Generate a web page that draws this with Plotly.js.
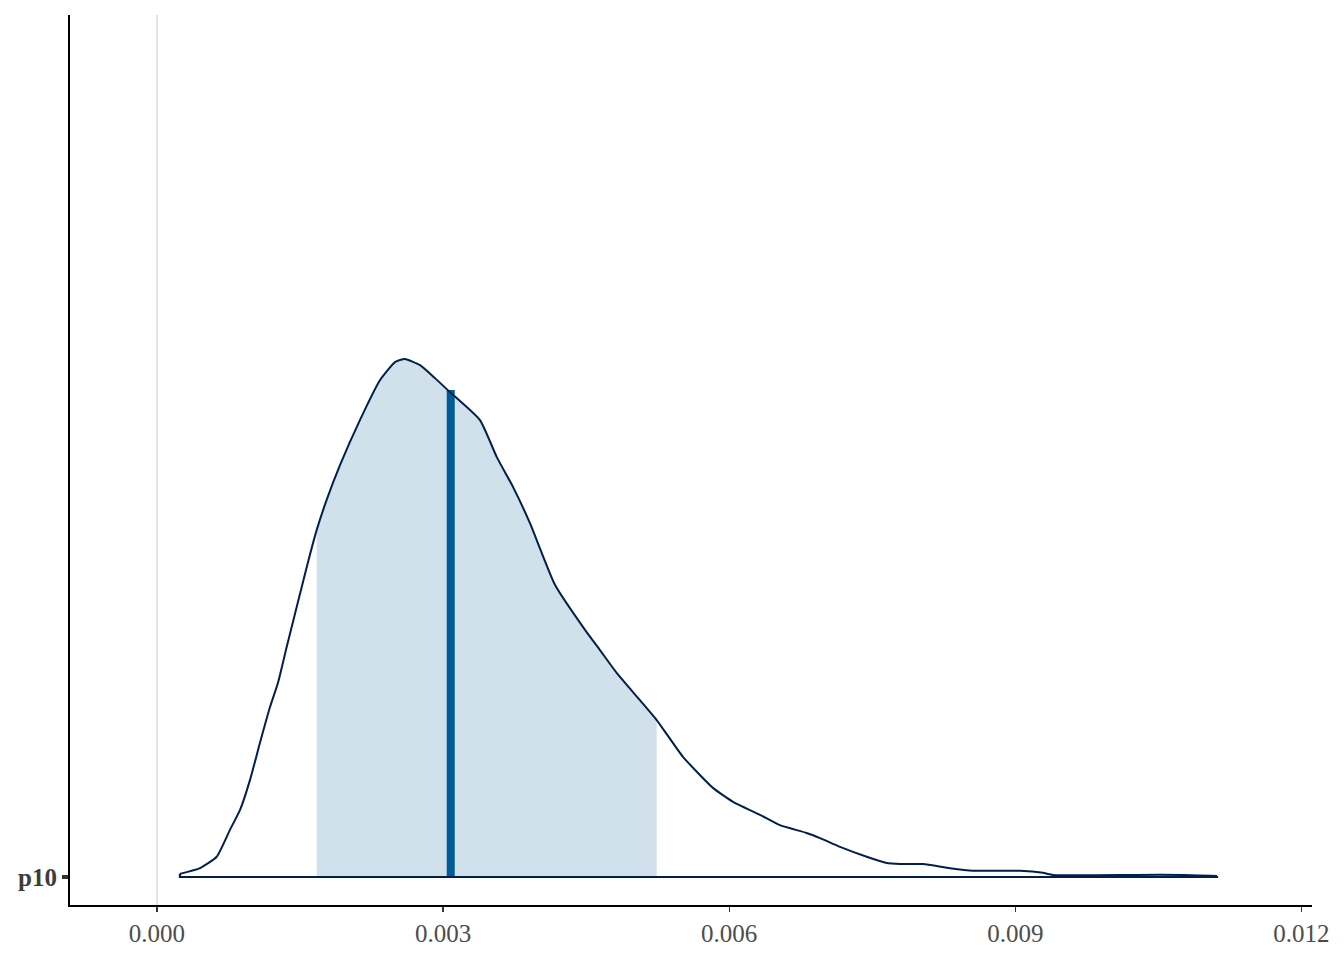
<!DOCTYPE html>
<html>
<head>
<meta charset="utf-8">
<script src="https://cdn.plot.ly/plotly-3.0.1.min.js"></script>
<style>html,body{margin:0;padding:0;background:#fff;}#chart{width:1344px;height:960px;}</style>
</head>
<body>
<div id="chart"></div>
<script>
// Parameter name (y category)
const paramLabel = 'p10';
// Density estimate of p10 (x values, relative density heights)
const densX = [0.000241,0.000451,0.000626,0.000765,0.000870,0.000975,0.001080,0.001185,0.001269,0.001360,0.001465,0.001570,0.001675,0.001779,0.001919,0.002128,0.002338,0.002496,0.002600,0.002758,0.002915,0.003072,0.003387,0.003562,0.003733,0.003911,0.004173,0.004488,0.004645,0.004820,0.004991,0.005240,0.005515,0.005830,0.006040,0.006323,0.006532,0.006812,0.006953,0.007162,0.007442,0.007651,0.007791,0.008032,0.008315,0.008556,0.009049,0.009290,0.009395,0.010276,0.010758,0.011115];
const densY = [0.6,1.7,3.9,9.1,12.9,18.7,25.9,32.8,37.5,44.4,52.1,59.8,67.0,72.8,79.5,88.2,95.9,99.4,100,98.8,96.3,93.6,88.2,81.1,75.3,68.3,56.4,47.7,43.8,39.4,35.7,30.3,23.2,17.2,14.5,12.0,10.0,8.5,7.5,5.8,3.9,2.7,2.5,2.5,1.7,1.2,1.2,0.8,0.4,0.4,0.4,0.2];
// Credible interval (inner) and median
const intervalLow = 0.001675;
const intervalHigh = 0.005240;
const medianX = 0.00308;
const medianDensity = 94.0;
// X tick values
const xTicks = [0, 0.003, 0.006, 0.009, 0.012];
const xTickText = ['0.000','0.003','0.006','0.009','0.012'];

const n = densX.length;
// shaded interval area
const shadeX = [], shadeY = [];
densX.forEach((x,i)=>{ if(x>=intervalLow-1e-9 && x<=intervalHigh+1e-9){ shadeX.push(x); shadeY.push(densY[i]); } });
const shadeTrace = {
  x: [shadeX[0]].concat(shadeX, [shadeX[shadeX.length-1]]),
  y: [0].concat(shadeY, [0]),
  type:'scatter', mode:'lines', fill:'toself', fillcolor:'#d1e1ec',
  line:{width:0, color:'rgba(0,0,0,0)'}, hoverinfo:'skip', showlegend:false
};
const medianTrace = {
  x:[medianX, medianX], y:[0, medianDensity], type:'scatter', mode:'lines',
  line:{color:'#005b96', width:8}, showlegend:false, hoverinfo:'skip'
};
const curveTrace = {
  x: densX, y: densY,
  type:'scatter', mode:'lines', line:{color:'#011f4b', width:2, shape:'spline', smoothing:0.5},
  showlegend:false, hoverinfo:'skip'
};
const baseTrace = {
  x: [densX[0], densX[0], densX[n-1], densX[n-1]],
  y: [densY[0], 0, 0, densY[n-1]],
  type:'scatter', mode:'lines', line:{color:'#011f4b', width:2.2},
  showlegend:false, hoverinfo:'skip'
};

const layout = {
  width:1344, height:960,
  margin:{l:70, r:32, t:15, b:55},
  paper_bgcolor:'#ffffff', plot_bgcolor:'#ffffff',
  showlegend:false,
  xaxis:{
    range:[-0.000912, 0.012111],
    tickvals:xTicks, ticktext:xTickText,
    showgrid:false, zeroline:true, zerolinecolor:'#e3e3e3', zerolinewidth:2,
    showline:true, linecolor:'#000000', linewidth:2,
    ticks:'outside', ticklen:5, tickwidth:1.2, tickcolor:'#333333',
    tickfont:{family:'Liberation Serif, Times New Roman, serif', size:25, color:'#4d4d4d'},
    fixedrange:true
  },
  yaxis:{
    range:[-5.41, 166.4],
    tickvals:[0], ticktext:['<b>'+paramLabel+'</b>'],
    showgrid:false, zeroline:false,
    showline:true, linecolor:'#000000', linewidth:2,
    ticks:'outside', ticklen:6, tickwidth:4, tickcolor:'#333333',
    tickfont:{family:'Liberation Serif, Times New Roman, serif', size:25, color:'#3d3d3d'},
    fixedrange:true
  }
};
Plotly.newPlot('chart', [shadeTrace, medianTrace, curveTrace, baseTrace], layout, {displayModeBar:false, staticPlot:true});
</script>
</body>
</html>
